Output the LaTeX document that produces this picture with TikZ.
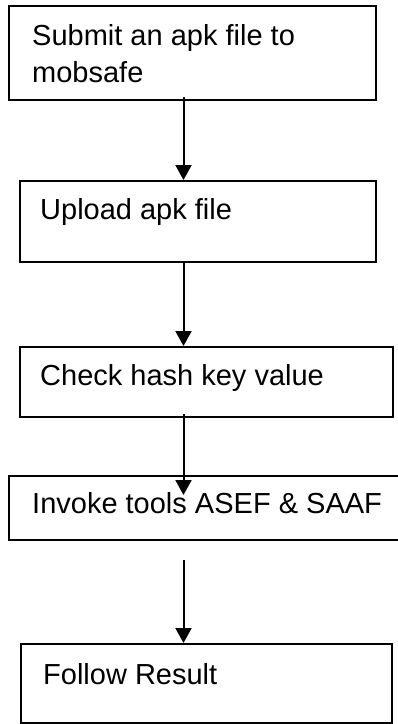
\documentclass[tikz,border=0pt]{standalone}
\usepackage{fontspec}
\setmainfont{Liberation Sans}
\usetikzlibrary{arrows.meta,positioning}
\begin{document}
\begin{tikzpicture}[x=1pt,y=-1pt,
  box/.style={draw=black,line width=2pt,inner sep=0pt},
  lbl/.style={anchor=base west,inner sep=0pt,font=\fontsize{29}{37}\selectfont},
  arr/.style={line width=2pt,-{Triangle[width=16pt,length=15pt]}}]
\useasboundingbox (0,0) rectangle (397,724);
\fill[white] (0,0) rectangle (397,724);
% boxes
\node[box,minimum width=367pt,minimum height=94pt] (b1) at (192.5,53) {};
\node[box,minimum width=356pt,minimum height=81pt] (b2) at (198,221.5) {};
\node[box,minimum width=373pt,minimum height=70pt] (b3) at (206.5,382) {};
\node[box,minimum width=395pt,minimum height=64pt] (b4) at (206.5,508) {};
\node[box,minimum width=371pt,minimum height=79pt] (b5) at (206.5,683.5) {};
% texts
\node[lbl] (t1a) at (32,45) {Submit an apk file to};
\node[lbl] (t1b) at (32,82) {mobsafe};
\node[lbl] (t2) at (40,219) {Upload apk file};
\node[lbl] (t3) at (40,385) {Check hash key value};
\node[lbl] (t4) at (32,513) {Invoke tools ASEF \& SAAF};
\node[lbl] (t5) at (43,684) {Follow Result};
% connectors
\coordinate (xa) at (183.5,0);
\draw[arr] ([yshift=4pt]b1.south -| xa) -- (b2.north -| xa);
\draw[arr] (b2.south -| xa) -- (b3.north -| xa);
\draw[arr] ([yshift=4pt]b3.south -| xa) -- ([yshift=-20pt]b4.north -| xa);
\draw[arr] ([yshift=-19pt]b4.south -| xa) -- (b5.north -| xa);
\end{tikzpicture}
\end{document}
